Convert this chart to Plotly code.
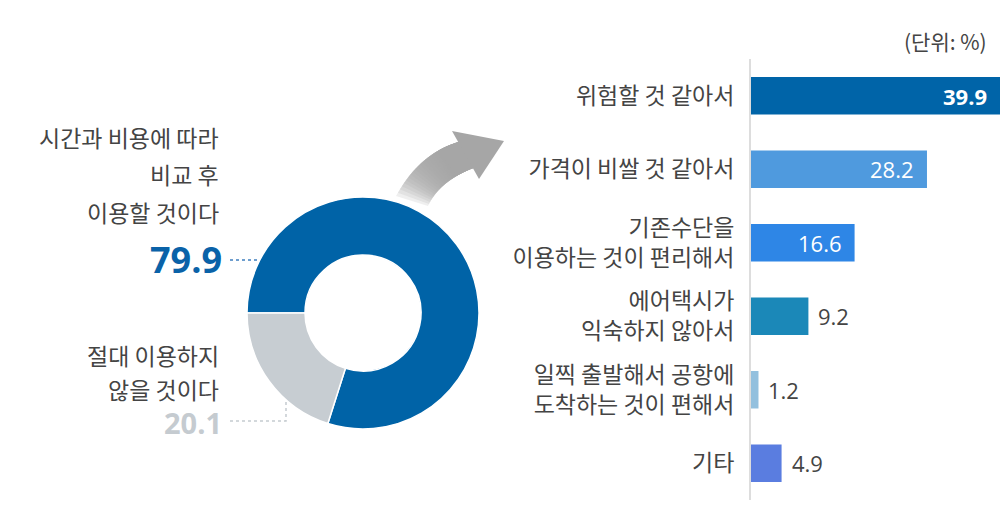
import plotly.graph_objects as go

# the page body has an 8px margin, so the figure is drawn 8px in from the corner
OFF = 8
W, H = 1008 - 2 * OFF, 513 - 2 * OFF

# donut data
donut_labels = ["시간과 비용에 따라 비교 후 이용할 것이다", "절대 이용하지 않을 것이다"]
donut_values = [79.9, 20.1]

# bar data (reasons)
reasons = [
    "위험할 것 같아서",
    "가격이 비쌀 것 같아서",
    "기존수단을<br>이용하는 것이 편리해서",
    "에어택시가<br>익숙하지 않아서",
    "일찍 출발해서 공항에<br>도착하는 것이 편해서",
    "기타",
]
reason_values = [39.9, 28.2, 16.6, 9.2, 1.2, 4.9]

bar_colors = ["#0064a8", "#4f9ade", "#2e86e6", "#1b88b8", "#93c0de", "#5a7de0"]
KR = "Noto Sans CJK KR"
NUM = "Open Sans"
TXT = "#444444"
ARROW = "#a6a6a6"


def px(x, y):
    """screen pixel -> paper coords"""
    return (x - OFF) / W, 1 - (y - OFF) / H


def bez(p0, p1, p2, t):
    return ((1 - t) ** 2 * p0[0] + 2 * (1 - t) * t * p1[0] + t * t * p2[0],
            (1 - t) ** 2 * p0[1] + 2 * (1 - t) * t * p1[1] + t * t * p2[1])


def poly_path(pts):
    pp = [px(*p) for p in pts]
    return "M " + " L ".join(f"{a:.5f},{b:.5f}" for a, b in pp) + " Z"


fig = go.Figure()

# donut
fig.add_trace(go.Pie(
    values=donut_values,
    labels=donut_labels,
    hole=0.5,
    sort=False,
    direction="clockwise",
    rotation=270,
    marker=dict(colors=["#0063a7", "#c7cdd2"], line=dict(color="white", width=1.5)),
    textinfo="none",
    hoverinfo="skip",
    showlegend=False,
    domain=dict(x=[px(246, 0)[0], px(480, 0)[0]], y=[px(0, 429)[1], px(0, 197)[1]]),
))

# bars
fig.add_trace(go.Bar(
    x=reason_values,
    y=reasons,
    orientation="h",
    marker=dict(color=bar_colors, line=dict(width=0)),
    hoverinfo="skip",
    showlegend=False,
))

annotations = []
for r, v in zip(reasons, reason_values):
    inside = v > 12
    annotations.append(dict(
        x=v, y=r, xref="x", yref="y",
        text=f"<b>{v}</b>" if v == max(reason_values) else f"{v}",
        showarrow=False,
        xanchor="right" if inside else "left",
        xshift=-11 if inside else 8,
        font=dict(family=NUM, size=22, color="white" if inside else TXT),
    ))

# left side texts
left_lines = [("시간과 비용에 따라", 137), ("비교 후", 174), ("이용할 것이다", 212),
              ("절대 이용하지", 355), ("않을 것이다", 389)]
for t, yy in left_lines:
    ax, ay = px(221, yy)
    annotations.append(dict(x=ax, y=ay, xref="paper", yref="paper", text=t,
                            showarrow=False, xanchor="right", yanchor="middle",
                            font=dict(family=KR, size=23, color=TXT)))

ax, ay = px(224, 259)
annotations.append(dict(x=ax, y=ay, xref="paper", yref="paper",
                        text=f"<b>{donut_values[0]}</b>", showarrow=False,
                        xanchor="right", yanchor="middle",
                        font=dict(family=NUM, size=36, color="#0a62a8")))
ax, ay = px(224, 422)
annotations.append(dict(x=ax, y=ay, xref="paper", yref="paper",
                        text=f"<b>{donut_values[1]}</b>", showarrow=False,
                        xanchor="right", yanchor="middle",
                        font=dict(family=NUM, size=29, color="#c5cbd0")))

ax, ay = px(989, 41)
annotations.append(dict(x=ax, y=ay, xref="paper", yref="paper", text="(단위: %)",
                        showarrow=False, xanchor="right", yanchor="middle",
                        font=dict(family=KR, size=21, color=TXT)))

shapes = []
# leader lines
x0, y0 = px(230, 260)
x1, y1 = px(258, 260)
shapes.append(dict(type="line", xref="paper", yref="paper", x0=x0, y0=y0, x1=x1, y1=y1,
                   line=dict(color="#3f7fbf", width=1.5, dash="dot")))
shapes.append(dict(type="path", xref="paper", yref="paper",
                   path="M {:.5f},{:.5f} L {:.5f},{:.5f} L {:.5f},{:.5f}".format(
                       *px(230, 421), *px(286, 421), *px(286, 399)),
                   line=dict(color="#c5cbd0", width=1.5, dash="dot")))

# curved arrow, tail fading out towards the donut (stacked translucent layers)
up = [(396, 196), (420, 152), (462, 141)]
lo = [(428, 206), (440, 180), (476, 167)]
n = 18
fade_end = 0.7
for k in range(n):
    t0 = fade_end * k / n
    ts = [t0 + (1 - t0) * i / 12 for i in range(13)]
    pts = [bez(*up, t) for t in ts] + [bez(*lo, t) for t in reversed(ts)]
    shapes.append(dict(type="path", xref="paper", yref="paper", path=poly_path(pts),
                       fillcolor=ARROW, opacity=0.18, line=dict(width=0), layer="below"))
ts = [fade_end + (1 - fade_end) * i / 8 for i in range(9)]
pts = [bez(*up, t) for t in ts] + [bez(*lo, t) for t in reversed(ts)]
shapes.append(dict(type="path", xref="paper", yref="paper", path=poly_path(pts),
                   fillcolor=ARROW, line=dict(width=0), layer="below"))
shapes.append(dict(type="path", xref="paper", yref="paper",
                   path=poly_path([(452, 131), (504, 141), (479, 179)]),
                   fillcolor=ARROW, line=dict(width=0), layer="below"))

fig.update_layout(
    width=W,
    height=H,
    margin=dict(l=0, r=0, t=0, b=0),
    paper_bgcolor="white",
    plot_bgcolor="white",
    bargap=0.49,
    xaxis=dict(domain=[px(751, 0)[0], 1.0], range=[0, 39.9], visible=False, fixedrange=True),
    yaxis=dict(
        domain=[px(0, 500)[1], px(0, 59)[1]],
        range=[5.5, -0.5],
        type="category",
        showline=True,
        linecolor="#dddddd",
        linewidth=2,
        showgrid=False,
        zeroline=False,
        ticks="",
        ticklabelstandoff=10,
        tickfont=dict(family=KR, size=23, color=TXT),
        fixedrange=True,
    ),
    annotations=annotations,
    shapes=shapes,
)

fig.write_html("out.html")
